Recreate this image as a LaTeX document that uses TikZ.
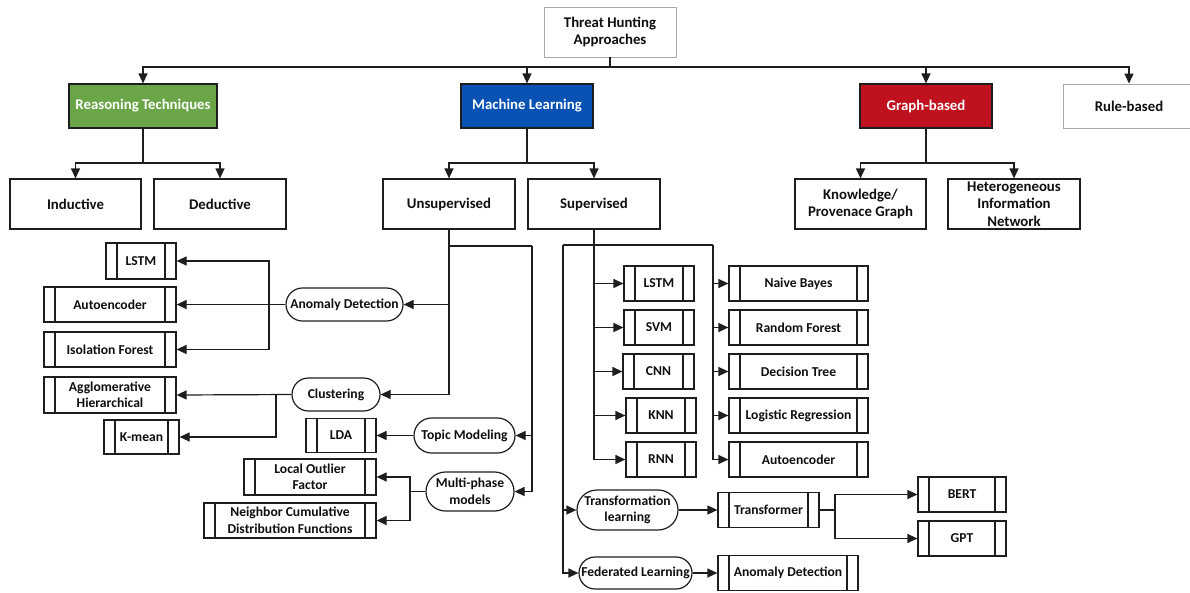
\documentclass[tikz,border=0pt]{standalone}
\usepackage{fontspec}
\setmainfont{Carlito}
\usetikzlibrary{arrows.meta,shapes.misc}
\definecolor{lineC}{RGB}{30,30,30}
\definecolor{grayB}{RGB}{170,170,170}
\definecolor{greenF}{RGB}{106,166,72}
\definecolor{blueF}{RGB}{8,82,180}
\definecolor{redF}{RGB}{192,18,30}
\definecolor{textC}{RGB}{15,15,15}
\tikzset{
  base/.style={draw=lineC, line width=1.2pt, align=center, inner sep=0pt, text=textC,
    font=\fontsize{13.6}{16.5}\selectfont\bfseries},
  big/.style={base, rectangle, font=\fontsize{14.8}{17.5}\selectfont\bfseries},
  topbox/.style={big, draw=grayB, line width=0.9pt},
  colbox/.style={big, fill=#1, text=white, minimum width=132pt, minimum height=44pt},
  ppbox/.style={base, rectangle, path picture={
      \draw[line width=1.2pt, draw=lineC]
        ([xshift=11pt]path picture bounding box.north west) -- ([xshift=11pt]path picture bounding box.south west)
        ([xshift=-11pt]path picture bounding box.north east) -- ([xshift=-11pt]path picture bounding box.south east);}},
  rrbox/.style={base, rounded rectangle},
  conn/.style={draw=lineC, line width=1.2pt},
  arr/.style={conn, -{Triangle[length=10pt,width=9pt]}},
}
\begin{document}
\begin{tikzpicture}[x=1pt,y=-1pt]
\fill[white] (0,0) rectangle (1190,592);
\useasboundingbox (0,0) rectangle (1190,592);

% level 0 and 1
\node[topbox, minimum width=132pt, minimum height=50pt] (root) at (610,32) {Threat Hunting\\Approaches};
\node[colbox=greenF, minimum width=148pt] (rt) at (143,106) {Reasoning Techniques};
\node[colbox=blueF] (ml) at (527,106) {Machine Learning};
\node[colbox=redF] (gb) at (926,106) {Graph-based};
\node[topbox, minimum width=132pt, minimum height=44pt] (rb) at (1129,106) {Rule-based};

% level 2
\node[big, minimum width=131pt, minimum height=50pt] (ind) at (75.5,204) {Inductive};
\node[big, minimum width=132pt, minimum height=50pt] (ded) at (220,204) {Deductive};
\node[big, minimum width=132pt, minimum height=50pt] (uns) at (449,204) {Unsupervised};
\node[big, minimum width=132pt, minimum height=50pt] (sup) at (594,204) {Supervised};
\node[big, minimum width=131pt, minimum height=50pt] (kpg) at (860.5,204) {Knowledge/\\Provenace Graph};
\node[big, minimum width=132pt, minimum height=50pt] (hin) at (1014,204) {Heterogeneous\\Information\\Network};

% unsupervised subtree
\node[ppbox, minimum width=70pt, minimum height=36pt] (lstmA) at (141,261) {LSTM};
\node[ppbox, minimum width=132pt, minimum height=35pt] (aeA) at (110,304.5) {Autoencoder};
\node[ppbox, minimum width=132pt, minimum height=35pt] (ifo) at (110,349.5) {Isolation Forest};
\node[ppbox, minimum width=132pt, minimum height=36pt] (agg) at (110,395) {Agglomerative\\Hierarchical};
\node[ppbox, minimum width=75pt, minimum height=34pt] (km) at (141.5,437) {K-mean};
\node[rrbox, minimum width=117pt, minimum height=33pt] (adA) at (344.5,304.5) {Anomaly Detection};
\node[rrbox, minimum width=88pt, minimum height=33pt] (clu) at (336,394.5) {Clustering};
\node[ppbox, minimum width=70pt, minimum height=34pt] (lda) at (341,435.5) {LDA};
\node[rrbox, minimum width=101pt, minimum height=35pt] (tm) at (464.5,435.5) {Topic Modeling};
\node[ppbox, minimum width=132pt, minimum height=36pt] (lof) at (310,477) {Local Outlier\\Factor};
\node[ppbox, minimum width=172pt, minimum height=35pt] (ncdf) at (290,520.5) {Neighbor Cumulative\\Distribution Functions};
\node[rrbox, minimum width=88pt, minimum height=39pt] (mpm) at (470,491.5) {Multi-phase\\models};

% supervised subtree
\node[ppbox, minimum width=70pt, minimum height=35pt] (lstmB) at (659,283.5) {LSTM};
\node[ppbox, minimum width=70pt, minimum height=35pt] (svm) at (659,327.5) {SVM};
\node[ppbox, minimum width=71pt, minimum height=35pt] (cnn) at (658.5,371.5) {CNN};
\node[ppbox, minimum width=70pt, minimum height=35pt] (knn) at (661,415.5) {KNN};
\node[ppbox, minimum width=70pt, minimum height=35pt] (rnn) at (661,459.5) {RNN};
\node[ppbox, minimum width=139pt, minimum height=35pt] (nb) at (798.5,283.5) {Naive Bayes};
\node[ppbox, minimum width=139pt, minimum height=35pt] (rf) at (798.5,327.5) {Random Forest};
\node[ppbox, minimum width=139pt, minimum height=35pt] (dt) at (798.5,371.5) {Decision Tree};
\node[ppbox, minimum width=139pt, minimum height=35pt] (lr) at (798.5,415.5) {Logistic Regression};
\node[ppbox, minimum width=139pt, minimum height=35pt] (aeB) at (798.5,459.5) {Autoencoder};
\node[rrbox, minimum width=101pt, minimum height=40pt] (tl) at (627.5,510) {Transformation\\learning};
\node[ppbox, minimum width=101pt, minimum height=35pt] (tr) at (768.5,510) {Transformer};
\node[ppbox, minimum width=88pt, minimum height=35pt] (bert) at (962,494.5) {BERT};
\node[ppbox, minimum width=88pt, minimum height=35pt] (gpt) at (962,538.5) {GPT};
\node[rrbox, minimum width=113pt, minimum height=32pt] (fl) at (635.5,573) {Federated Learning};
\node[ppbox, minimum width=140pt, minimum height=35pt] (adB) at (788,573) {Anomaly Detection};

% connectors: top
\coordinate (bus) at (610,67);
\draw[conn] (root.south) -- (bus);
\draw[arr] (bus) -| (rt.north);
\draw[arr] (bus) -| (ml.north);
\draw[arr] (bus) -| (gb.north);
\draw[arr] (bus) -| (rb.north);

\coordinate (rtJ) at (143,163);
\draw[conn] (rt.south) -- (rtJ);
\draw[arr] (rtJ) -| (ind.north);
\draw[arr] (rtJ) -| (ded.north);
\coordinate (mlJ) at (527,163);
\draw[conn] (ml.south) -- (mlJ);
\draw[arr] (mlJ) -| (uns.north);
\draw[arr] (mlJ) -| (sup.north);
\coordinate (gbJ) at (926,163);
\draw[conn] (gb.south) -- (gbJ);
\draw[arr] (gbJ) -| (kpg.north);
\draw[arr] (gbJ) -| (hin.north);

% unsupervised connectors
\draw[arr] (uns.south) |- (adA.east);
\draw[arr] (uns.south) |- (clu.east);
\coordinate (uL) at (449,246);
\coordinate (uR) at (532,246);
\draw[conn] (uL) -- (uR);
\draw[arr] (uR) |- (tm.east);
\draw[arr] (uR) |- (mpm.east);
\coordinate (adJ) at (269,304.5);
\draw[arr] (adA.west) -- (aeA.east);
\draw[arr] (adJ) |- (lstmA.east);
\draw[arr] (adJ) |- (ifo.east);
\coordinate (cJ) at (276,394.5);
\draw[arr] (clu.west) -- (agg.east);
\draw[arr] (cJ) |- (km.east);
\draw[arr] (tm.west) -- (lda.east);
\coordinate (mJ) at (410,491.5);
\draw[conn] (mpm.west) -- (mJ);
\draw[arr] (mJ) |- (lof.east);
\draw[arr] (mJ) |- (ncdf.east);

% supervised connectors
\draw[arr] (sup.south) |- (lstmB.west);
\draw[arr] (sup.south) |- (svm.west);
\draw[arr] (sup.south) |- (cnn.west);
\draw[arr] (sup.south) |- (knn.west);
\draw[arr] (sup.south) |- (rnn.west);
\coordinate (sL) at (563,245);
\coordinate (sR) at (713,245);
\draw[conn] (sL) -- (sR);
\draw[arr] (sR) |- (nb.west);
\draw[arr] (sR) |- (rf.west);
\draw[arr] (sR) |- (dt.west);
\draw[arr] (sR) |- (lr.west);
\draw[arr] (sR) |- (aeB.west);
\draw[arr] (sL) |- (tl.west);
\draw[arr] (sL) |- (fl.west);
\draw[arr] (tl.east) -- (tr.west);
\coordinate (tJ) at (835,510);
\draw[conn] (tr.east) -- (tJ);
\draw[arr] (tJ) |- (bert.west);
\draw[arr] (tJ) |- (gpt.west);
\draw[arr] (fl.east) -- (adB.west);
\end{tikzpicture}
\end{document}
